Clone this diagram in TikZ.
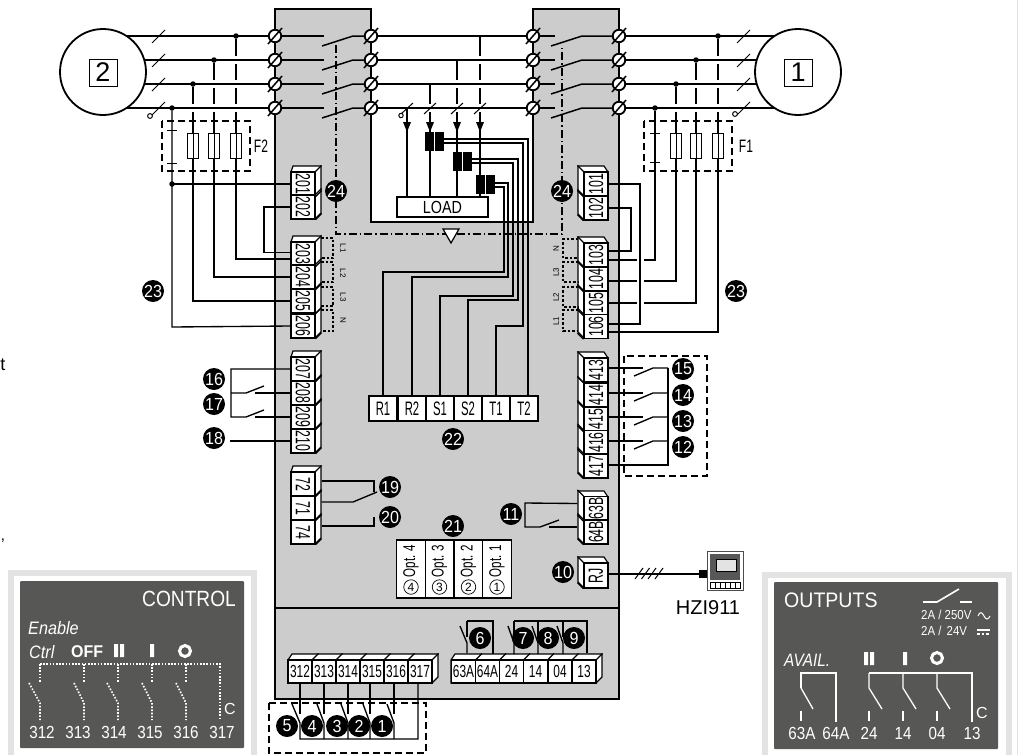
\documentclass[tikz,border=0pt]{standalone}
\usepackage{fontspec}
\usepackage{graphicx}
\setmainfont{Liberation Sans}
\definecolor{panelgray}{HTML}{CCCCCC}
\definecolor{darkplate}{HTML}{575756}
\definecolor{plateedge}{HTML}{E3E3E3}
\newcommand{\fs}[1]{\fontsize{#1}{#1}\selectfont}
\newcommand{\celltext}[2]{\rotatebox{#1}{\scalebox{0.6}[1]{\fs{20.5}#2}}}
\newcommand{\flatcell}[1]{\scalebox{0.68}[1]{\fs{17.5}#1}}
\newcommand{\platenum}[1]{\scalebox{0.87}[1]{\fs{17.5}#1}}
\newcommand{\leftblock}[2]{\draw[thickline,fill=white] (291,#1) -- (293,#1-6) -- (321,#1-6) -- (321,#2-6) -- (315,#2) -- (291,#2) -- cycle;}
\newcommand{\rightblock}[2]{\draw[thickline,fill=white] (608,#1) -- (604,#1-6) -- (578,#1-6) -- (578,#2-6) -- (584,#2) -- (608,#2) -- cycle;}
\newcommand{\flatblock}[2]{\draw[thickline,fill=white] (#1,660) -- (#1+4,654) -- (#2+6,654) -- (#2+6,677) -- (#2,683) -- (#1,683) -- cycle;}
\tikzset{
  thickline/.style={line width=1.2pt},
  wire/.style={line width=1.35pt},
  bus/.style={line width=1.8pt},
  patch/.style={white,line width=3pt},
  dashdot/.style={line width=1.1pt,dash pattern=on 8pt off 3pt on 1.5pt off 3pt},
  boxdash/.style={line width=1.2pt,dash pattern=on 7pt off 4pt},
  tinydash/.style={line width=1.1pt,dash pattern=on 2.5pt off 2pt},
  platedots/.style={white,line width=1.6pt,dash pattern=on 1.6pt off 1.6pt},
  plateline/.style={white,line width=1.3pt},
  screw/.style={circle,draw,fill=white,line width=1.8pt,inner sep=0pt,minimum size=12.5pt},
  source/.style={circle,draw,fill=white,line width=1.8pt,inner sep=0pt,minimum size=86pt},
  srcbox/.style={draw,line width=1pt,inner sep=0pt,minimum width=28pt,minimum height=27pt,font=\fs{27}},
  dotnode/.style={circle,fill=black,inner sep=0pt,minimum size=5.5pt},
  numdot/.style={circle,fill=black,text=white,inner sep=0pt,minimum size=22pt,font=\fs{17.5}},
  lcell/.style={draw,fill=white,thickline,inner sep=0pt,minimum width=24pt,minimum height=24pt},
  rowcell/.style={draw,fill=white,thickline,inner sep=0pt,minimum width=28pt,minimum height=25pt},
  flatcellnode/.style={draw,fill=white,thickline,inner sep=0pt,minimum width=24pt,minimum height=23pt},
  fuse/.style={draw,fill=white,line width=1pt,inner sep=0pt,minimum width=11pt,minimum height=25pt},
  cthalf/.style={fill=black,inner sep=0pt,minimum width=9pt,minimum height=19pt},
  platetext/.style={text=white,inner sep=0pt},
  tinylabel/.style={inner sep=0pt,font=\fs{8}}
}
\begin{document}
\begin{tikzpicture}[x=1pt,y=-1pt]
\useasboundingbox (0,0) rectangle (1019,755);
% Reste am Rand:
\draw[plateedge] (1017,0) -- (1017,755);
\node[inner sep=0pt,font=\fs{18}] (cutT) at (3,365) {t};
\node[inner sep=0pt,font=\fs{15}] (cutC) at (3,541) {,};
% Die Schilder:
\draw[plateedge,line width=6pt] (11,755) -- (11,573) -- (254,573) -- (254,755);
\fill[darkplate,rounded corners=1pt] (20,581) rectangle (244,748);
\draw[plateedge,line width=6pt] (765,755) -- (765,575) -- (1009,575) -- (1009,755);
\fill[darkplate,rounded corners=1pt] (774,582) rectangle (998,749);
% Das Gehaeuse:
\draw[thickline,line width=1.4pt,fill=panelgray] (275,9) -- (371,9) -- (371,222) -- (533,222) -- (533,9) -- (619,9) -- (619,699) -- (275,699) -- cycle;
\draw[thickline,line width=1.4pt] (275,608) -- (619,608);
\draw[dashdot] (336,45) -- (336,234) -- (562,234) -- (562,45);
\draw[thickline,fill=white] (443,229) -- (459,229) -- (451,243) -- cycle;
% Die Abgriffe:
\foreach \x/\y in {236/36,214/60,193/84,172/108,718/36,696/60,676/84,655/108}
  \node[dotnode] (j\x) at (\x,\y) {};
\foreach \x/\y in {480/36,457/60,430/84,407/108}
  \draw[wire] (\x,\y) -- (\x,197);
\foreach \x/\y in {480/60,480/84,480/108,457/84,457/108,430/108}
  \draw[patch] (\x,\y-4) -- (\x,\y+4);
% Die Leitungen:
\foreach \y/\n in {36/1,60/2,84/3,108/4} {
  \coordinate (lsrc\n) at (103,\y);
  \coordinate (rsrc\n) at (798,\y);
  \node[screw] (sa\n) at (275,\y) {};
  \node[screw] (sb\n) at (371,\y) {};
  \node[screw] (sc\n) at (533,\y) {};
  \node[screw] (sd\n) at (619,\y) {};
  \draw[bus] (lsrc\n) -- (sa\n);
  \draw[bus] (sa\n) -- +(49,0);
  \draw[bus] (sb\n) -- (sc\n);
  \draw[bus] (sc\n) -- +(22,0);
  \draw[bus] (sd\n) -- (rsrc\n);
  \draw[thickline,line width=1.5pt] (322,\y+10) -- (353,\y) -- (sb\n);
  \draw[thickline,line width=1.5pt] (551,\y+10) -- (582,\y) -- (sd\n);
  \foreach \s in {a,b,c,d}
    \draw[line width=1.5pt] (s\s\n) +(-7,8) -- +(7,-8);
  \draw[line width=1pt] (152,\y+7) -- (165,\y-6);
  \draw[line width=1pt] (737,\y+7) -- (750,\y-6);
}
\draw[line width=1pt,fill=white] (150,116) circle (2.4);
\draw[line width=1pt,fill=white] (735,114) circle (2.4);
\node[source] (srcL) at (103,72) {};
\node[source] (srcR) at (798,72) {};
\node[srcbox] (boxL) at (103,72.5) {2};
\node[srcbox] (boxR) at (798,72.5) {1};
% Die Last:
\foreach \x in {407,430,457,480} {
  \fill (\x-4,122) -- (\x+4,122) -- (\x,132) -- cycle;
  \draw[line width=1pt] (\x-6,114) -- (\x+6,103);
}
\draw[line width=1pt,fill=white] (401,115.5) circle (2.2);
\node[draw,fill=white,thickline,inner sep=0pt,minimum width=91pt,minimum height=20pt] (load) at (442.5,207) {\scalebox{0.82}[1]{\fs{17.5}LOAD}};
\foreach \n/\x/\y in {1/429.5/141.5,2/457.5/161.5,3/480.5/184.5} {
  \node[cthalf] (ct\n a) at (\x,\y) {};
  \node[cthalf] (ct\n b) at (\x+10,\y) {};
}
% Wandleranschluesse:
\foreach \name/\x in {R1/383,R2/412,S1/440,S2/468,T1/496,T2/524}
  \node[rowcell] (c\name) at (\x,408.5) {\scalebox{0.58}[1]{\fs{19.5}\name}};
\draw[wire] ([yshift=2.5pt]ct1b.east) -| ([xshift=4pt]cT2.north);
\draw[wire] ([yshift=-1.5pt]ct1b.east) -- (523,143) -- (523,326) -| (cT1.north);
\draw[wire] ([yshift=2.5pt]ct2b.east) -- (518,159) -- (518,300) -| (cS2.north);
\draw[wire] ([yshift=-1.5pt]ct2b.east) -- (513,163) -- (513,296) -| (cS1.north);
\draw[wire] ([yshift=1.5pt]ct3b.east) -- (508,183) -- (508,277) -| (cR2.north);
\draw[wire] ([yshift=-2.5pt]ct3b.east) -- (504,187) -- (504,272) -| (cR1.north);
% Die Klemmen links:
\leftblock{172}{219}
\leftblock{242}{338}
\leftblock{357}{453}
\leftblock{472}{544}
\foreach \num/\y in {201/184,202/207,203/254,204/277,205/301,206/326,207/369,208/393,209/417,210/441,72/484,71/508,74/532} {
  \node[lcell] (t\num) at (303,\y) {\celltext{-90}{\num}};
  \draw[thickline] (t\num.north east) -- +(6,-6);
  \draw[thickline] (t\num.south east) -- +(6,-6);
}
% Die Klemmen rechts:
\rightblock{172}{220}
\rightblock{243}{338}
\rightblock{358}{478}
\rightblock{497}{544}
\rightblock{563}{588}
\foreach \num/\y in {101/184,102/208,103/255,104/279,105/303,106/326.5,413/370,414/395,415/419,416/442.5,417/466,63B/508.5,64B/532} {
  \node[lcell] (t\num) at (596,\y) {\celltext{90}{\num}};
  \draw[thickline] (t\num.north west) -- +(-6,-6);
  \draw[thickline] (t\num.south west) -- +(-6,-6);
}
\node[lcell,minimum height=25pt] (tRJ) at (596,575.5) {\celltext{90}{RJ}};
\draw[thickline] (tRJ.north west) -- +(-6,-6);
\draw[thickline] (tRJ.south west) -- +(-6,-6);
% Die gestrichelten Kaestchen:
\foreach \a/\b/\lbl/\yl in {238/258/L1/248,262/282/L2/273,287/306/L3/297,310/331/N/320} {
  \draw[tinydash] (321,\a) -- (333,\a) -- (333,\b) -- (321,\b);
  \node[tinylabel,rotate=-90] (lbl\lbl l) at (343,\yl) {\lbl};
}
\foreach \a/\b/\lbl/\yl in {239/258/N/249,262/282/L3/272,287/307/L2/297,310/331/L1/321} {
  \draw[tinydash] (578,\a) -- (563,\a) -- (563,\b) -- (578,\b);
  \node[tinylabel,rotate=90] (lbl\lbl r) at (556,\yl) {\lbl};
}
% Unten:
\flatblock{288}{432}
\flatblock{451}{596}
\foreach \num/\x in {312/300,313/324,314/348,315/372,316/396,317/420} {
  \node[flatcellnode] (t\num) at (\x,671.5) {\flatcell{\num}};
  \draw[thickline] (t\num.north east) -- +(6,-6);
}
\foreach \num/\x in {63A/463.5,64A/487.5,24/511.5,14/535.5,04/560,13/584} {
  \node[flatcellnode] (t\num) at (\x,671.5) {\flatcell{\num}};
  \draw[thickline] (t\num.north east) -- +(6,-6);
}
% Optionen:
\foreach \n/\x in {4/411,3/439.5,2/468.5,1/497} {
  \node[draw,fill=white,thickline,inner sep=0pt,minimum width=28.5pt,minimum height=58pt] (opt\n) at (\x,569) {};
  \node[rotate=90,inner sep=0pt] (opttxt\n) at (\x,561) {\scalebox{0.68}[1]{\fs{17}Opt. \n}};
  \node[circle,draw,line width=0.7pt,inner sep=0pt,minimum size=14.5pt,font=\fs{12}] (optnum\n) at (\x,587) {\n};
}
% Verdrahtung links:
\draw[wire] (j172) -- (172,327) -- (t206.west);
\draw[wire] (j193) -- (193,301) -- (t205.west);
\draw[wire] (j214) -- (214,277) -- (t204.west);
\draw[wire] (j236) -- (236,259) -- ([yshift=-5pt]t203.west);
\foreach \x/\y in {236/60,236/84,236/108,214/84,214/108,193/108}
  \draw[patch] (\x,\y-4) -- (\x,\y+4);
\foreach \y in {60,84,108}
  \draw[bus] (165,\y) -- (250,\y);
\draw[wire] (j172 |- t201.west) -- (t201.west);
\node[dotnode] (j201) at (172,184) {};
\draw[wire] (t202.west) -- (264,207) -- (264,252.5) -- ([yshift=1.5pt]t203.west);
% Verdrahtung rechts:
\draw[wire] (j655) -- (655,260) -- ([yshift=-5pt]t103.east);
\draw[wire] (j676) -- (676,281) -- ([yshift=-2pt]t104.east);
\draw[wire] (j696) -- (696,303) -- (t105.east);
\draw[wire] (j718) -- (718,332) -- ([yshift=-5.5pt]t106.east);
\foreach \x/\y in {718/60,718/84,718/108,696/84,696/108,676/108}
  \draw[patch] (\x,\y-4) -- (\x,\y+4);
\foreach \y in {60,84,108}
  \draw[bus] (645,\y) -- (730,\y);
\foreach \y in {260,281,303}
  \draw[white,line width=3pt] (636.5,\y) -- (644,\y);
\draw[wire] (t101.east) -- (640,184) -- (640,324) -- ([yshift=2.5pt]t106.east);
\draw[wire] (t102.east) -- (631,208) -- (631,251) -- ([yshift=4pt]t103.east);
% Sicherungen:
\node[fuse] (fa) at (193,145.5) {};
\node[fuse] (fb) at (214,145.5) {};
\node[fuse] (fc) at (236,145.5) {};
\node[fuse] (fd) at (676,145.5) {};
\node[fuse] (fe) at (696,145.5) {};
\node[fuse] (ff) at (718,145.5) {};
\foreach \f in {fa,fb,fc,fd,fe,ff}
  \draw[line width=1pt] (\f.north) -- (\f.south);
\draw[boxdash] (162,121) rectangle (250,171);
\draw[boxdash] (644,121) rectangle (732,171);
\draw[line width=1pt] (167,130) -- (177,130) (167,163) -- (177,163);
\draw[line width=1pt] (650,133) -- (660,133) (650,162) -- (660,162);
\node[inner sep=0pt] (lblF2) at (261,146) {\scalebox{0.67}[1]{\fs{18}F2}};
\node[inner sep=0pt] (lblF1) at (746,146) {\scalebox{0.67}[1]{\fs{18}F1}};
% Kontakte:
\draw[wire] (t207.west) -- (231,369) -- (231,417) -- (246,417) -- (264,410);
\draw[wire] (231,393) -- (246,393) -- (264,386);
\draw[wire] (t208.west) -- (255,393);
\draw[wire] (t209.west) -- (255,417);
\draw[wire] (t210.west) -- (230,441);
\draw[wire] ([shift={(6pt,3pt)}]t72.east) -- (374,481) -- (374,492);
\draw[wire] ([shift={(6pt,6pt)}]t71.east) -- (353,502) -- (377,492);
\draw[wire] ([shift={(6pt,6pt)}]t74.east) -- (374,526) -- (374,517);
\foreach \num/\y/\s in {413/368/2,414/393/2,415/417/2,416/441/1.5} {
  \draw[wire] ([yshift=\s pt]t\num.east) -- (643,\y);
  \draw[wire] (634,\y+8) -- (653,\y) -- (668,\y);
}
\draw[wire] (668,368) -- (668,465) -- ([yshift=1pt]t417.east);
\draw[boxdash] (624,356) rectangle (707,476);
\draw[wire] ([shift={(-6pt,5pt)}]t63B.west) -- (525,503) -- (525,527) -- (540,527) -- (559,520);
\draw[wire] ([shift={(-6pt,5pt)}]t64B.west) -- (549,527);
\foreach \num/\x in {312/300,313/324,314/348,315/370,316/394}
  \draw[wire] (\x,683) -- (\x,714);
\draw[wire] (418,683) -- (418,739) -- (300,739) -- (300,723) -- (292,704);
\foreach \x/\z in {324/317,348/341,370/363,394/387}
  \draw[wire] (\x,739) -- (\x,723) -- (\z,704);
\draw[boxdash] (269,703) rectangle (426,753);
\draw[wire] (467,621) -- (493,621) -- (493,654);
\draw[wire] (467,621) -- (467,637);
\draw[wire] ([shift={(3.5pt,6pt)}]t63A.north) -- (467,643) -- (460,626);
\draw[wire] (514,621) -- (587,621) -- ([shift={(3pt,6pt)}]t13.north);
\foreach \num/\x in {24/514,14/538,04/563} {
  \draw[wire] (\x,621) -- (\x,637);
  \draw[wire] (\x,654) -- (\x,643) -- (\x-6,626);
}
% HZI:
\node[draw=black!70,fill=white,line width=0.8pt,inner sep=0pt,minimum width=36pt,minimum height=39pt] (hzi) at (725,570.5) {};
\fill[darkplate] (710,554) rectangle (740,580);
\node[fill=plateedge,draw=black,line width=0.5pt,inner sep=0pt,minimum width=20pt,minimum height=12pt] (hziscreen) at (726,565) {};
\node[draw,fill=white,line width=0.7pt,inner sep=0pt,minimum width=30pt,minimum height=6pt] (hzicomb) at (725,585.5) {};
\foreach \x in {715,720,725,730,735}
  \draw[line width=0.6pt] (\x,582.5) -- (\x,588.5);
\node[fill=black,inner sep=0pt,minimum width=8pt,minimum height=8pt] (hziplug) at (703,574) {};
\draw[wire] ([yshift=1.5pt]tRJ.east) -- (hziplug.west);
\foreach \x in {635,641.5,648,655}
  \draw[line width=1pt] (\x,579) -- +(8,-11);
\node[inner sep=0pt,font=\fs{20}] (lblhzi) at (708,608) {HZI911};
% Die Nummern:
\foreach \num/\x/\y in {1/382/726,2/359/726,3/337/726,4/312/726,5/287/726,6/480/638,7/523/638,8/548/638,9/574/638,10/563/572,11/511/514,12/683/447,13/683/421,14/683/395,15/683/369,16/214/379,17/214/404,18/214/438,19/390/487,20/390/517,21/453/526,22/453/439,23/153/291,24/336/191}
  \node[numdot] (n\num) at (\x,\y) {\scalebox{0.92}[1]{\num}};
\node[numdot] (n23r) at (736,291) {\scalebox{0.92}[1]{23}};
\node[numdot] (n24r) at (562,191) {\scalebox{0.92}[1]{24}};
% Schild CONTROL:
\node[platetext,anchor=east] (ctrlttl) at (236,599) {\scalebox{0.87}[1]{\fs{22}CONTROL}};
\node[platetext,anchor=west] (ctrlen) at (28,628) {\scalebox{0.9}[1]{\fs{18}\itshape Enable}};
\node[platetext,anchor=west] (ctrlct) at (29,652) {\scalebox{0.9}[1]{\fs{18}\itshape Ctrl}};
\node[platetext,anchor=west] (ctrloff) at (71,652) {\scalebox{0.94}[1]{\fs{17}\bfseries OFF}};
\fill[white] (114,644) rectangle (118,657) (120,644) rectangle (124,657) (150,644) rectangle (154,657);
\draw[white,line width=3pt] (185,651) circle (5.5);
\draw[platedots] (40,664) -- (220,664) -- (220,719);
\foreach \x/\z in {40/29,84/74,118/107,152/142,186/176} {
  \draw[platedots] (\x,664) -- (\x,683);
  \draw[platedots] (\z,683) -- (\x,703) -- (\x,720);
}
\foreach \num/\x in {312/42,313/78,314/114,315/150,316/186,317/222}
  \node[platetext] (ctl\num) at (\x,732) {\platenum{\num}};
\node[platetext,font=\fs{16}] (ctlC) at (230,709) {C};
% Schild OUTPUTS:
\node[platetext,anchor=west] (outttl) at (784,600) {\scalebox{0.93}[1]{\fs{21}OUTPUTS}};
\draw[plateline,line width=1.6pt] (923,602) -- (937,602) -- (959,589);
\draw[plateline,line width=1.6pt] (960,602) -- (972,602);
\node[platetext,anchor=west] (outac) at (921,615) {\scalebox{0.88}[1]{\fs{13}2A / 250V}};
\node[platetext,anchor=west] (outdc) at (921,631) {\scalebox{0.88}[1]{\fs{13}2A /\, 24V}};
\draw[plateline,line width=1pt] (978,616) .. controls (980,611) and (982,612) .. (984,616) .. controls (986,620) and (988,620) .. (990,616);
\draw[plateline,line width=1.1pt] (977,630) -- (990,630);
\draw[platedots,line width=1.1pt,dash pattern=on 2.5pt off 2pt] (977,634) -- (990,634);
\node[platetext,anchor=west] (outav) at (784,660) {\scalebox{0.85}[1]{\fs{18}\itshape AVAIL.}};
\fill[white] (864,652) rectangle (868,665) (870,652) rectangle (874,665) (903,652) rectangle (907,665);
\draw[white,line width=3pt] (937,658) circle (5.5);
\draw[plateline] (801,688) -- (801,673) -- (836,673) -- (836,722);
\draw[plateline] (801,688) -- (813,709);
\draw[plateline] (801,711) -- (801,721);
\draw[plateline] (972,722) -- (972,673) -- (869,673);
\foreach \x in {869,903,937} {
  \draw[plateline] (\x,673) -- (\x,688) -- (\x+13,709);
  \draw[plateline] (\x,711) -- (\x,721);
}
\foreach \num/\x in {63A/802,64A/836,24/869,14/903,04/937,13/972}
  \node[platetext] (out\num) at (\x,733) {\platenum{\num}};
\node[platetext,font=\fs{16}] (outC) at (982,713) {C};
\end{tikzpicture}
\end{document}
